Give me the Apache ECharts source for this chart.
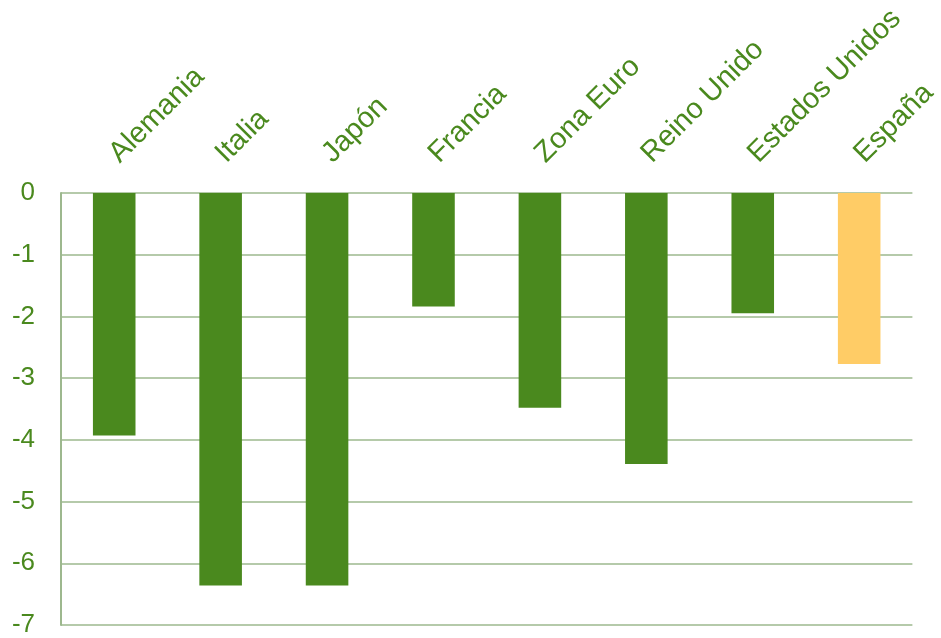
<!DOCTYPE html>
<html><head><meta charset="utf-8">
<script src="https://cdn.jsdelivr.net/npm/echarts@6/dist/echarts.min.js"></script>
<style>html,body{margin:0;padding:0;background:#fff}#c{width:941px;height:638px}</style>
</head><body><div id="c"></div>
<script>
var categories = ["Alemania","Italia","Japón","Francia","Zona Euro","Reino Unido","Estados Unidos","España"];
var values = [-3.93,-6.36,-6.36,-1.84,-3.48,-4.39,-1.95,-2.77];
var highlight = "España";
var green = "#4a891e", yellow = "#ffcc66", grid = "#9db88e";
var chart = echarts.init(document.getElementById('c'));
chart.setOption({
  animation:false,
  grid:{left:61,right:27,top:193,bottom:7},
  xAxis:{type:'category',position:'top',data:categories,
    axisLine:{show:false},axisTick:{show:false},
    axisLabel:{rotate:45,color:green,fontSize:29,fontFamily:'Liberation Sans, Arial',margin:35,interval:0}},
  yAxis:{type:'value',min:-7,max:0,interval:1,
    axisLine:{show:true,lineStyle:{color:grid,width:2}},axisTick:{show:false},
    splitLine:{lineStyle:{color:grid,width:1.5}},
    axisLabel:{color:green,fontSize:26,fontFamily:'Liberation Sans, Arial',margin:26}},
  series:[{type:'bar',barWidth:'40%',
    data:values.map(function(v,i){return {value:v,itemStyle:{color:categories[i]===highlight?yellow:green}};})}]
});
</script></body></html>
